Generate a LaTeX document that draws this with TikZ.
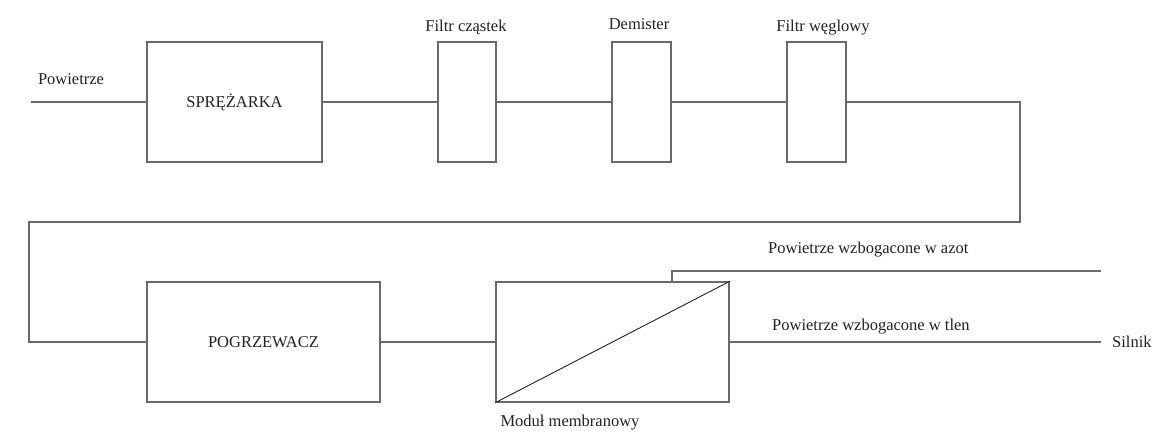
\documentclass[tikz,border=0pt]{standalone}
\usepackage{fontspec}
\setmainfont{Liberation Serif}
\definecolor{linegray}{HTML}{6A6A6A}
\definecolor{textgray}{HTML}{222222}

\begin{document}
\begin{tikzpicture}[x=1pt,y=-1pt]
\tikzset{
    block/.style={rectangle,draw=linegray,line width=1.3pt,minimum height=120pt,inner sep=0pt,text=textgray,font=\fontsize{16.5}{19}\selectfont},
    lbl/.style={inner sep=0pt,text=textgray,font=\fontsize{16.5}{19}\selectfont},
    pipe/.style={draw=linegray,line width=1.4pt}
}
\useasboundingbox (0,0) rectangle (1160,433);
  % vertices
\node[block,minimum width=175pt] (sprezarka) at (234.5,102) {SPRĘŻARKA};
\node[block,minimum width=58pt] (filtr) at (467,102) {};
\node[block,minimum width=59pt] (demister) at (641.5,102) {};
\node[block,minimum width=59pt] (wegiel) at (816.5,102) {};
\node[block,minimum width=233pt] (pogrzewacz) at (263.5,342) {POGRZEWACZ};
\node[block,minimum width=233pt] (modul) at (612.5,342) {};
\coordinate (in) at (31,102);
\coordinate (zwrot) at (1020,222);
\coordinate (azot) at (1101,271);
\coordinate (tlen) at (1101,342);
% labels
\node[lbl] (powietrze) at (71,79) {Powietrze};
\node[lbl] (lfiltr) at (466,27) {Filtr cząstek};
\node[lbl] (ldemister) at (639,24) {Demister};
\node[lbl] (lwegiel) at (823,28) {Filtr węglowy};
\node[lbl] (lmodul) at (570,423) {Moduł membranowy};
\node[lbl,anchor=west] (lazot) at (768,250) {Powietrze wzbogacone w azot};
\node[lbl,anchor=west] (ltlen) at (772,327) {Powietrze wzbogacone w tlen};
\node[lbl,anchor=west] (silnik) at (1112,342) {Silnik};
% edges
\path[pipe]
(in) edge (sprezarka)
(sprezarka) edge (filtr)
(filtr) edge (demister)
(demister) edge (wegiel)
(pogrzewacz) edge (modul)
(modul) edge (tlen)
;
\draw[pipe] (wegiel.east) -| (zwrot) -- (29,222) |- (pogrzewacz.west);
\draw[pipe] ([xshift=59.5pt]modul.north) |- (azot);
\draw[draw=textgray,line width=0.9pt] (modul.south west) -- (modul.north east);
\end{tikzpicture}
\end{document}
